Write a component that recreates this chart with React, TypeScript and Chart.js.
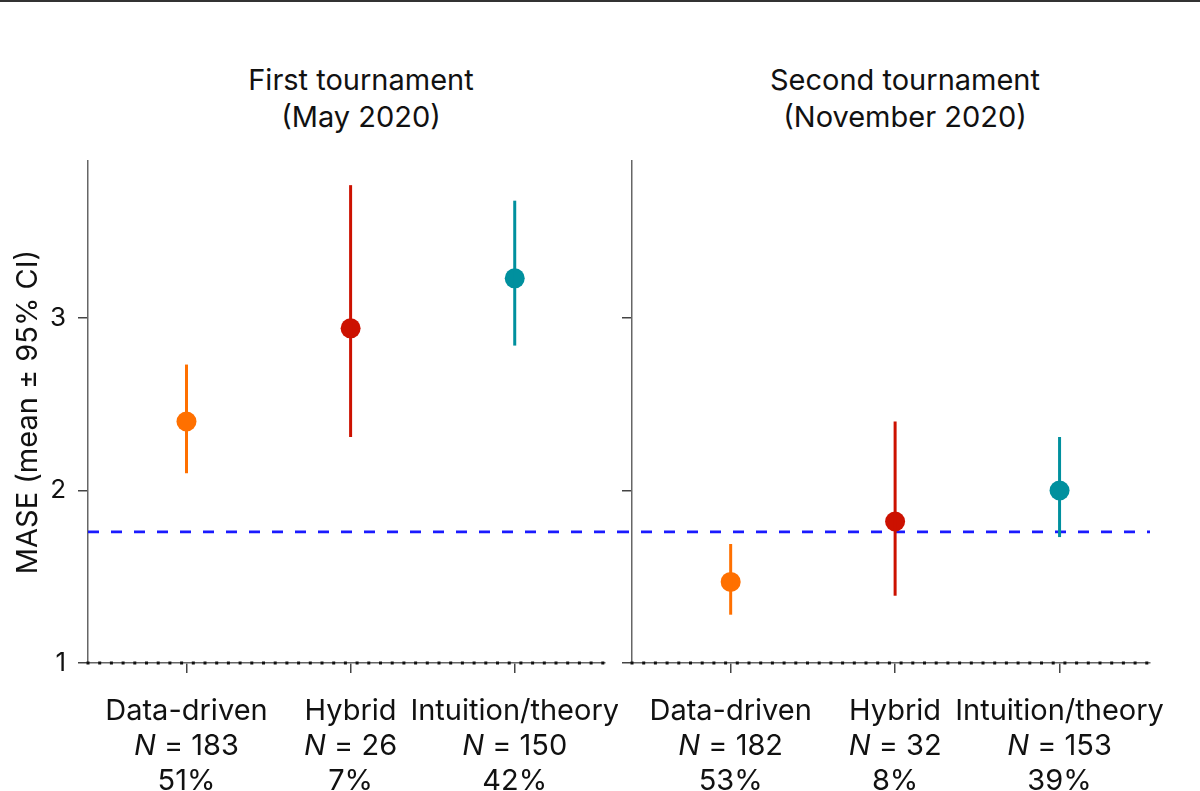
import { useEffect, useRef } from "react"
import { Chart, registerables } from "chart.js"

Chart.register(...registerables)

const FONT = "Inter, 'Noto Sans', sans-serif"

const groups = ["Data-driven", "Hybrid", "Intuition/theory"]
const groupColors = ["#ff7000", "#cc1100", "#00909e"]
const yTicks = [1, 2, 3]

// first tournament (May 2020)
const firstMean = [2.4, 2.94, 3.23]
const firstLow = [2.1, 2.31, 2.84]
const firstHigh = [2.73, 3.77, 3.68]
const firstN = [183, 26, 150]
const firstShare = ["51%", "7%", "42%"]

// second tournament (November 2020)
const secondMean = [1.47, 1.82, 2.0]
const secondLow = [1.28, 1.39, 1.73]
const secondHigh = [1.69, 2.4, 2.31]
const secondN = [182, 32, 153]
const secondShare = ["53%", "8%", "39%"]

// reference lines
const benchmark = 1.76
const baseline = 1

type PanelProps = {
  means: number[]
  lows: number[]
  highs: number[]
  ns: number[]
  shares: string[]
  left: number
  width: number
  axisWidth: number
  rightPad: number
  showYLabels: boolean
  dashFromEdge: boolean
  dashToEdge: boolean
}

// draws the benchmark / baseline lines and the three-line category labels
const panelDecor = {
  id: "panelDecor",
  beforeDatasetsDraw(chart: any, _args: any, opts: any) {
    const { ctx, chartArea, scales } = chart
    const y = scales.y
    ctx.save()
    // dashed blue benchmark
    const yb = y.getPixelForValue(benchmark)
    ctx.strokeStyle = "#1a1aff"
    ctx.lineWidth = 2.6
    ctx.setLineDash([11, 12])
    ctx.beginPath()
    ctx.moveTo(opts.dashFromEdge ? 0 : chartArea.left, yb)
    ctx.lineTo(opts.dashToEdge ? chart.width : chartArea.right, yb)
    ctx.stroke()
    // dotted baseline on top of the x axis
    const y1 = y.getPixelForValue(baseline)
    ctx.strokeStyle = "#111"
    ctx.lineWidth = 3
    ctx.setLineDash([3, 8.7])
    ctx.beginPath()
    ctx.moveTo(chartArea.left - 1.5, y1)
    ctx.lineTo(chartArea.right, y1)
    ctx.stroke()
    ctx.restore()
  },
  afterDraw(chart: any, _args: any, opts: any) {
    const { ctx, scales } = chart
    const x = scales.x
    const size = 29
    ctx.save()
    ctx.fillStyle = "#111"
    ctx.textBaseline = "middle"
    groups.forEach((g, i) => {
      const px = x.getPixelForValue(i)
      ctx.textAlign = "center"
      ctx.font = `${size}px ${FONT}`
      ctx.fillText(g, px, 711)
      // "N = 183" with italic N
      const rest = ` = ${opts.ns[i]}`
      ctx.font = `italic ${size}px ${FONT}`
      const wN = ctx.measureText("N").width
      ctx.font = `${size}px ${FONT}`
      const wR = ctx.measureText(rest).width
      const start = px - (wN + wR) / 2
      ctx.textAlign = "left"
      ctx.font = `italic ${size}px ${FONT}`
      ctx.fillText("N", start, 746)
      ctx.font = `${size}px ${FONT}`
      ctx.fillText(rest, start + wN, 746)
      ctx.textAlign = "center"
      ctx.fillText(opts.shares[i], px, 781)
    })
    ctx.restore()
  },
}

function Panel(props: PanelProps) {
  const canvasRef = useRef<HTMLCanvasElement>(null)

  useEffect(() => {
    if (!canvasRef.current) return
    const ctx = canvasRef.current.getContext("2d")
    if (!ctx) return

    const errorBars = groups.map((g, i) => ({
      type: "line",
      label: g + " CI",
      data: [
        { x: i, y: props.lows[i] },
        { x: i, y: props.highs[i] },
      ],
      borderColor: groupColors[i],
      borderWidth: 3,
      pointRadius: 0,
      showLine: true,
    }))

    const chart = new Chart(ctx, {
      type: "scatter",
      data: {
        datasets: [
          ...errorBars,
          {
            type: "scatter",
            label: "mean",
            data: props.means.map((m, i) => ({ x: i, y: m })),
            pointRadius: 10,
            pointHoverRadius: 10,
            pointBackgroundColor: groupColors,
            pointBorderColor: groupColors,
            pointBorderWidth: 0,
          },
        ] as any,
      },
      options: {
        animation: false,
        responsive: false,
        maintainAspectRatio: false,
        layout: { padding: { top: 161, right: props.rightPad, left: 0, bottom: 0 } },
        plugins: {
          legend: { display: false },
          tooltip: { enabled: false },
          panelDecor: { ns: props.ns, shares: props.shares, dashFromEdge: props.dashFromEdge, dashToEdge: props.dashToEdge },
        } as any,
        scales: {
          x: {
            type: "linear",
            min: -0.6,
            max: 2.55,
            afterBuildTicks: (s: any) => {
              s.ticks = groups.map((_, i) => ({ value: i }))
            },
            afterFit: (s: any) => {
              s.height = 128
            },
            ticks: { display: false },
            grid: { drawOnChartArea: false, tickLength: 10, color: "#444", lineWidth: 1.5 },
            border: { display: true, color: "#666", width: 1.5 },
          },
          y: {
            min: 1,
            max: 3.91,
            afterBuildTicks: (s: any) => {
              s.ticks = yTicks.map((v) => ({ value: v }))
            },
            afterFit: (s: any) => {
              s.width = props.axisWidth
            },
            ticks: {
              display: props.showYLabels,
              padding: 12,
              color: "#111",
              font: { family: FONT, size: 26 },
              callback: (v: any) => String(v),
            },
            grid: { drawOnChartArea: false, tickLength: 10, color: "#444", lineWidth: 1.5 },
            border: { display: true, color: "#666", width: 1.5 },
            title: {
              display: props.showYLabels,
              text: "MASE (mean ± 95% CI)",
              color: "#111",
              font: { family: FONT, size: 29 },
              padding: { top: 11, bottom: 0 },
            },
          },
        },
      },
      plugins: [panelDecor],
    })

    return () => {
      chart.destroy()
    }
  }, [])

  return (
    <canvas
      ref={canvasRef}
      width={props.width}
      height={791}
      style={{ position: "absolute", left: props.left, top: 0, width: props.width, height: 791 }}
    />
  )
}

const titleStyle = {
  position: "absolute" as const,
  top: 61,
  width: 400,
  textAlign: "center" as const,
  fontFamily: FONT,
  fontSize: 29,
  lineHeight: "37px",
  color: "#111",
}

export default function App() {
  return (
    <div
      style={{
        position: "fixed",
        left: 0,
        top: 0,
        width: 1200,
        height: 791,
        background: "#fff",
        overflow: "hidden",
      }}
    >
      <div style={{ position: "absolute", left: 0, top: 0, width: 1200, height: 2, background: "#333" }} />
      <div style={{ ...titleStyle, left: 361 - 200 }}>
        First tournament
        <br />
        (May 2020)
      </div>
      <div style={{ ...titleStyle, left: 905 - 200 }}>
        Second tournament
        <br />
        (November 2020)
      </div>
      <Panel
        means={firstMean}
        lows={firstLow}
        highs={firstHigh}
        ns={firstN}
        shares={firstShare}
        left={0}
        width={618}
        axisWidth={88}
        rightPad={13}
        showYLabels={true}
        dashFromEdge={false}
        dashToEdge={true}
      />
      <Panel
        means={secondMean}
        lows={secondLow}
        highs={secondHigh}
        ns={secondN}
        shares={secondShare}
        left={618}
        width={582}
        axisWidth={14}
        rightPad={50}
        showYLabels={false}
        dashFromEdge={true}
        dashToEdge={false}
      />
    </div>
  )
}
